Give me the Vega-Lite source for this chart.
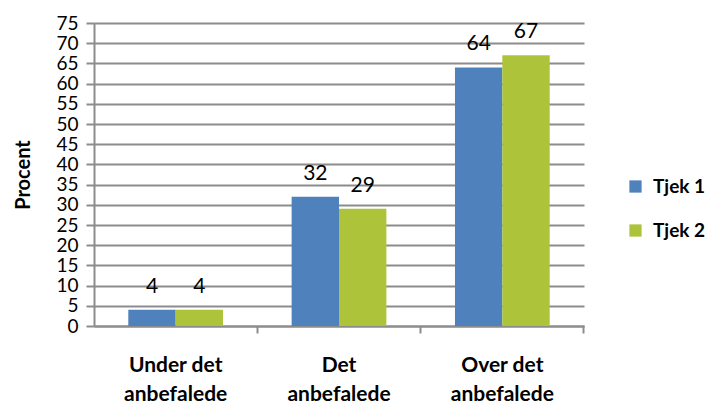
{
  "$schema": "https://vega.github.io/schema/vega-lite/v6.json",
  "width": 490,
  "height": 303,
  "autosize": {"type": "none"},
  "padding": {"left": 94, "top": 23, "right": 128, "bottom": 79},
  "background": "white",
  "data": {
    "values": [
      {"kategori": "Under det anbefalede", "serie": "Tjek 1", "procent": 4},
      {"kategori": "Under det anbefalede", "serie": "Tjek 2", "procent": 4},
      {"kategori": "Det anbefalede", "serie": "Tjek 1", "procent": 32},
      {"kategori": "Det anbefalede", "serie": "Tjek 2", "procent": 29},
      {"kategori": "Over det anbefalede", "serie": "Tjek 1", "procent": 64},
      {"kategori": "Over det anbefalede", "serie": "Tjek 2", "procent": 67}
    ]
  },
  "encoding": {
    "x": {
      "field": "kategori",
      "type": "nominal",
      "sort": ["Under det anbefalede", "Det anbefalede", "Over det anbefalede"],
      "scale": {"paddingInner": 0.42, "paddingOuter": 0.21},
      "axis": {
        "title": null,
        "labelAngle": 0,
        "labelFont": "Lato",
        "labelFontWeight": "bold",
        "labelFontSize": 21,
        "labelColor": "#000000",
        "labelLineHeight": 29,
        "labelPadding": 21,
        "labelBaseline": "top",
        "labelExpr": "indexof(datum.label, ' anbefalede') > 0 ? [slice(datum.label, 0, indexof(datum.label, ' anbefalede')), 'anbefalede'] : ''",
        "ticks": true,
        "bandPosition": 1.362,
        "tickSize": 7,
        "tickWidth": 2,
        "tickColor": "#8c8c8c",
        "domainColor": "#8c8c8c",
        "domainWidth": 2,
        "grid": false
      }
    },
    "xOffset": {"field": "serie", "type": "nominal", "scale": {"paddingInner": 0, "paddingOuter": 0}},
    "y": {
      "field": "procent",
      "type": "quantitative",
      "scale": {"domain": [0, 75], "nice": false},
      "axis": {
        "title": "Procent",
        "titleFont": "Lato",
        "titleFontWeight": "bold",
        "titleFontSize": 20,
        "titleColor": "#000000",
        "titlePadding": 22,
        "values": [0, 5, 10, 15, 20, 25, 30, 35, 40, 45, 50, 55, 60, 65, 70, 75],
        "labelFont": "Lato",
        "labelFontSize": 19,
        "labelColor": "#000000",
        "labelPadding": 8,
        "labelOverlap": false,
        "labelBound": false,
        "tickSize": 8,
        "tickWidth": 2,
        "tickColor": "#8c8c8c",
        "domainColor": "#8c8c8c",
        "domainWidth": 2,
        "grid": true,
        "gridColor": "#8c8c8c",
        "gridWidth": 2
      }
    }
  },
  "layer": [
    {
      "mark": {"type": "bar"},
      "encoding": {
        "color": {
          "field": "serie",
          "type": "nominal",
          "scale": {"domain": ["Tjek 1", "Tjek 2"], "range": ["#4f81bd", "#adc43a"]},
          "legend": {
            "title": null,
            "orient": "none",
            "legendX": 532,
            "legendY": 154,
            "symbolType": "square",
            "symbolSize": 150,
            "symbolStrokeWidth": 0,
            "labelFont": "Lato",
            "labelFontWeight": "bold",
            "labelFontSize": 19,
            "labelColor": "#000000",
            "labelOffset": 8,
            "rowPadding": 24
          }
        }
      }
    },
    {
      "mark": {"type": "text", "baseline": "alphabetic", "dy": -17, "font": "Lato", "fontSize": 21, "color": "#000000"},
      "encoding": {
        "text": {"field": "procent", "type": "quantitative"}
      }
    }
  ],
  "config": {
    "view": {"stroke": null}
  }
}
